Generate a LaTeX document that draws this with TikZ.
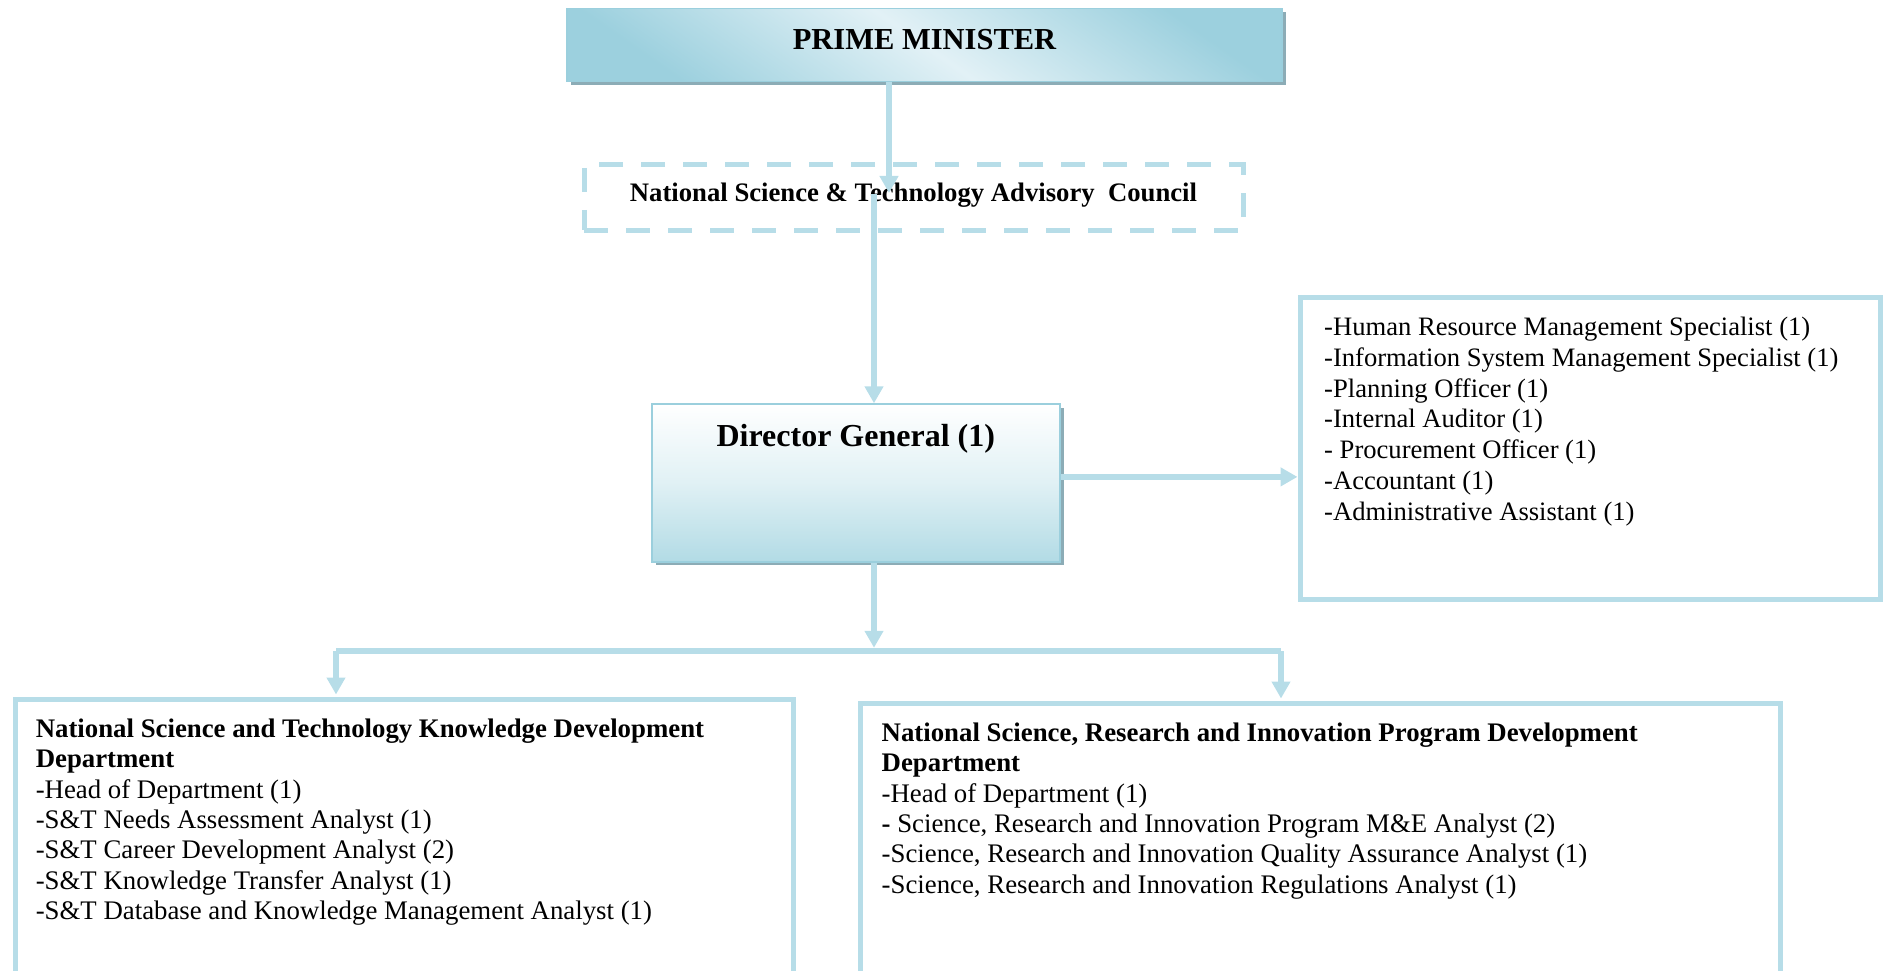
\documentclass[tikz,border=0pt]{standalone}
\usepackage{fontspec}
\setmainfont{Liberation Serif}
\usetikzlibrary{arrows.meta,shadows,calc}
\definecolor{lineblue}{RGB}{183,221,232}
\definecolor{boxborder}{RGB}{155,207,221}
\definecolor{shadowc}{RGB}{140,172,182}
\definecolor{pmdark}{RGB}{156,208,222}
\definecolor{pmlight}{RGB}{226,241,246}
\definecolor{dgblue}{RGB}{178,219,229}
\tikzset{
  conn/.style={draw=lineblue, line width=5.5pt, -{Triangle[length=17pt,width=18pt]}},
  busline/.style={draw=lineblue, line width=6.5pt},
  plainbox/.style={rectangle, draw=lineblue, line width=5pt, inner sep=0pt},
  dashbox/.style={rectangle, draw=lineblue, line width=5pt, dash pattern=on 24pt off 18pt, inner sep=0pt},
  pmbox/.style={rectangle, draw=boxborder, line width=1.5pt, inner sep=0pt,
    top color=pmdark, bottom color=pmdark, middle color=pmlight, shading angle=-35,
    general shadow={shadow xshift=4pt, shadow yshift=-3.5pt, fill=shadowc}},
  dgbox/.style={rectangle, draw=boxborder, line width=1.5pt, inner sep=0pt,
    top color=white, bottom color=dgblue, middle color=dgblue!40!white,
    general shadow={shadow xshift=4pt, shadow yshift=-3.5pt, fill=shadowc}},
  listtext/.style={anchor=north west, align=left, inner sep=0pt,
    font=\fontsize{26.6}{30.9}\selectfont},
  listtextb/.style={anchor=north west, align=left, inner sep=0pt,
    font=\fontsize{26.8}{30.4}\selectfont},
}
\begin{document}
\begin{tikzpicture}[x=1pt,y=-1pt]
\clip (0,0) rectangle (1883,971);

% Prime Minister
\node[pmbox, minimum width=715pt, minimum height=73.4pt, text height=20pt, text depth=10pt,
  font=\fontsize{30.5}{34}\selectfont\bfseries] (pm) at (924.5,45) {PRIME MINISTER};

% Advisory council (dashed)
\node[dashbox, minimum width=659pt, minimum height=65pt, text height=18pt, text depth=9.6pt,
  font=\fontsize{26.7}{30}\selectfont\bfseries] (nstac) at (913.5,197.5)
  {National Science \& Technology Advisory~ Council};

% Director General
\node[dgbox, minimum width=408pt, minimum height=157.7pt] (dg) at (855.8,482.9) {};
\node[anchor=base, inner sep=0pt, font=\fontsize{32}{36}\selectfont\bfseries] (dgT)
  at ($(dg.north)+(0,42.7)$) {Director General (1)};

% Admin staff box
\node[plainbox, minimum width=580pt, minimum height=302pt] (admin) at (1590,448.5) {};
\node[listtext] (adminT) at (1324,315) {\rule{0pt}{20pt}-Human Resource Management Specialist (1)\\
-Information System Management Specialist (1)\\
-Planning Officer (1)\\
-Internal Auditor (1)\\
- Procurement Officer (1)\\
-Accountant (1)\\
-Administrative Assistant (1)};

% Knowledge Development Department
\node[plainbox, minimum width=778pt, minimum height=301pt] (kdd) at (404,850) {};
\node[listtextb] (kddT) at (35.6,717) {\rule{0pt}{20pt}\textbf{National Science and Technology Knowledge Development}\\
\textbf{Department}\\
-Head of Department (1)\\
-S\&T Needs Assessment Analyst (1)\\
-S\&T Career Development Analyst (2)\\
-S\&T Knowledge Transfer Analyst (1)\\
-S\&T Database and Knowledge Management Analyst (1)};

% Science, Research and Innovation Program Development Department
\node[plainbox, minimum width=920pt, minimum height=296.5pt] (srid) at (1320,851.75) {};
\node[listtextb] (sridT) at (881.5,721) {\rule{0pt}{20pt}\textbf{National Science, Research and Innovation Program Development}\\
\textbf{Department}\\
-Head of Department (1)\\
\textbf{-} Science, Research and Innovation Program M\&E Analyst (2)\\
-Science, Research and Innovation Quality Assurance Analyst (1)\\
-Science, Research and Innovation Regulations Analyst (1)};

% connectors
\coordinate (pmTip) at (889,193);
\coordinate (nsStart) at (874,194);
\coordinate (busC) at (874,651);
\coordinate (busL) at (336,651);
\coordinate (busR) at (1281,651);

\draw[conn] (pm.south -| pmTip) -- (pmTip);
\draw[conn] (nsStart) -- (nsStart |- dg.north);
\draw[conn] ([yshift=6pt]dg.east) -- ([yshift=6pt]dg.east -| admin.west);
\draw[busline] (busL) -- (busR);
\draw[conn, shorten >=3.2pt] (dg.south -| busC) -- (busC);
\draw[conn, shorten >=2.5pt] (busL) -- (busL |- kdd.north);
\draw[conn, shorten >=2.5pt] (busR) -- (busR |- srid.north);
\end{tikzpicture}
\end{document}
